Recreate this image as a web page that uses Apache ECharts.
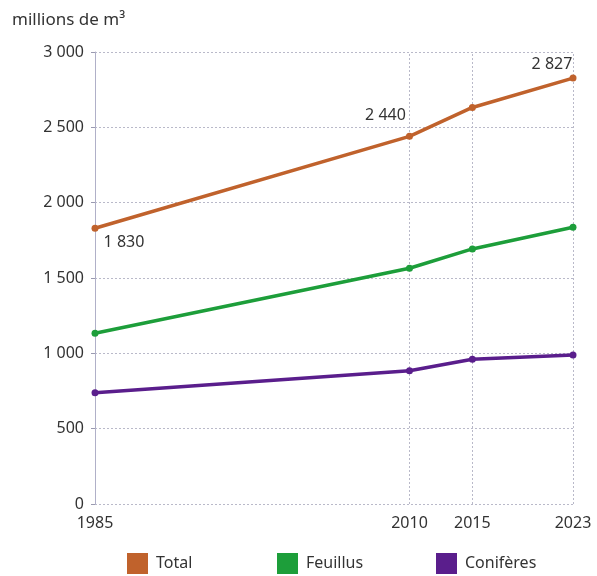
<!DOCTYPE html>
<html><head><meta charset="utf-8">
<script src="https://cdn.jsdelivr.net/npm/echarts@6/dist/echarts.min.js"></script>
<style>html,body{margin:0;padding:0;background:#fff}#c{width:597px;height:576px}</style>
</head><body><div id="c"></div>
<script>
const years = [1985, 2010, 2015, 2023];
const total = [1830, 2440, 2632, 2827];
const feuillus = [1133, 1565, 1693, 1837];
const coniferes = [739, 885, 961, 989];
const seriesNames = ['Total', 'Feuillus', 'Conifères'];
const yTicks = [0, 500, 1000, 1500, 2000, 2500, 3000];
const unitLabel = 'millions de m³';

const colors = ['#c0622c', '#1d9e3a', '#5a1e8c'];
const FONT = '"Noto Sans", "Open Sans", sans-serif';
const fmt = v => String(v).replace(/\B(?=(\d{3})+(?!\d))/g, ' ');

const labelStyle = {
  1830: {position: 'bottom', distance: 3, offset: [29, 0]},
  2440: {position: 'top', distance: 5, offset: [-24, -4]},
  2827: {position: 'top', distance: 2, offset: [-21, 0]}
};

function mk(vals, withLabels) {
  return years.map((y, i) => {
    const d = {value: [y, vals[i]]};
    if (withLabels && labelStyle[vals[i]]) {
      d.label = Object.assign({show: true, formatter: fmt(vals[i]), color: '#333', fontSize: 16, fontFamily: FONT}, labelStyle[vals[i]]);
    }
    return d;
  });
}

const legendLefts = [127, 277, 436];

const chart = echarts.init(document.getElementById('c'), null, {renderer: 'canvas'});
const gridLineStyle = {color: '#b9b9c9', type: [2, 2], width: 1};
chart.setOption({
  animation: false,
  textStyle: {fontFamily: FONT},
  title: {text: unitLabel, left: 7, top: 7, textStyle: {fontSize: 17, fontWeight: 'normal', color: '#333', fontFamily: FONT}},
  grid: {left: 95, right: 24, top: 52, bottom: 72},
  xAxis: {
    type: 'value', min: years[0], max: years[years.length - 1],
    axisLine: {show: false},
    axisTick: {show: false},
    splitLine: {show: false},
    axisLabel: {customValues: years, formatter: v => String(v), color: '#333', fontSize: 16, margin: 11, fontFamily: FONT}
  },
  yAxis: {
    type: 'value', min: 0, max: 3000, interval: 500,
    axisLine: {show: true, lineStyle: {color: '#b0b0c8', width: 1}},
    axisTick: {show: true, length: 4, inside: false, lineStyle: {color: '#9a9ab0'}},
    splitLine: {show: true, lineStyle: gridLineStyle},
    axisLabel: {customValues: yTicks, formatter: fmt, color: '#333', fontSize: 16, margin: 11, fontFamily: FONT}
  },
  legend: seriesNames.map((n, i) => ({
    top: 553, left: legendLefts[i], itemWidth: 21, itemHeight: 21, itemGap: 9,
    icon: 'rect', padding: 0,
    textStyle: {fontSize: 16, color: '#333', fontFamily: FONT, padding: [0, 0, 0, 3]},
    data: [n]
  })),
  series: [
    {name: seriesNames[0], type: 'line', data: mk(total, true), color: colors[0],
     lineStyle: {width: 3.5}, symbol: 'circle', symbolSize: 7, z: 5,
     markLine: {silent: true, symbol: 'none', label: {show: false}, lineStyle: gridLineStyle,
       data: years.slice(1).map(y => ({xAxis: y}))}},
    {name: seriesNames[1], type: 'line', data: mk(feuillus, false), color: colors[1],
     lineStyle: {width: 3.5}, symbol: 'circle', symbolSize: 7, z: 5},
    {name: seriesNames[2], type: 'line', data: mk(coniferes, false), color: colors[2],
     lineStyle: {width: 3.5}, symbol: 'circle', symbolSize: 7, z: 5}
  ]
});
</script></body></html>
